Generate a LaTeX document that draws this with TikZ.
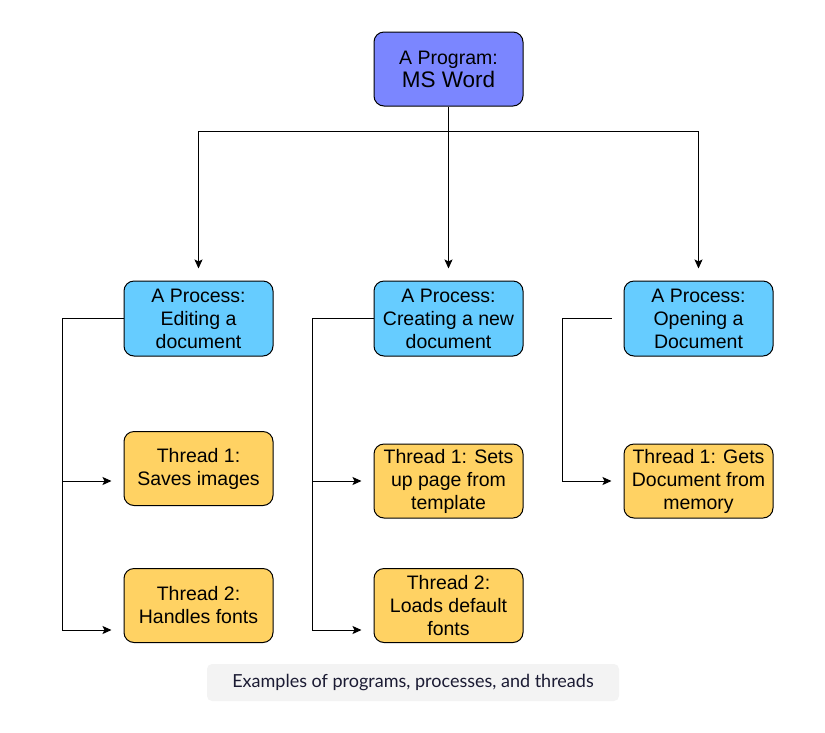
\documentclass[tikz,border=0pt]{standalone}
\usepackage{fontspec}
\setmainfont{Liberation Sans}
\newfontfamily\capfont{Lato}
\usetikzlibrary{arrows.meta}
\definecolor{progcol}{HTML}{7B86FF}
\definecolor{proccol}{HTML}{66CCFF}
\definecolor{thrcol}{HTML}{FFD263}
\definecolor{capbg}{HTML}{F3F3F3}
\definecolor{captxt}{HTML}{1B1B33}
\tikzset{
  box/.style={draw=black, line width=1pt, rounded corners=10pt, minimum width=149pt,
    minimum height=75pt, inner sep=0pt, align=center, font=\fontsize{19.5}{23}\selectfont},
  progbox/.style={box, fill=progcol, minimum height=74pt},
  procbox/.style={box, fill=proccol},
  thrbox/.style={box, fill=thrcol, minimum height=74pt},
  conn/.style={line width=1pt, -{Stealth[length=9pt,width=8pt,inset=2pt]}, shorten >=12pt},
  plain/.style={line width=1pt},
}
\begin{document}
\begin{tikzpicture}[x=1pt,y=-1pt]
\useasboundingbox (0,0) rectangle (825,732);
\node[progbox] (prog) at (448.5,69) {A Program:\\{\fontsize{22.5}{23}\selectfont MS Word}};
\node[procbox] (p1) at (198.5,318.5) {A Process:\\Editing a\\document};
\node[procbox] (p2) at (448.5,318.5) {A Process:\\Creating a new\\document};
\node[procbox] (p3) at (698.5,318.5) {A Process:\\Opening a\\Document};
\node[thrbox] (t11) at (198.5,468.5) {Thread 1:\\Saves images};
\node[thrbox] (t12) at (198.5,605.5) {Thread 2:\\Handles fonts};
\node[thrbox] (t21) at (448.5,481) {Thread 1: Sets\\up page from\\template};
\node[thrbox] (t22) at (448.5,605.5) {Thread 2:\\Loads default\\fonts};
\node[thrbox] (t31) at (698.5,481) {Thread 1: Gets\\Document from\\memory};
\coordinate (j) at (448.5,131);
\coordinate (a1) at (62,318.5);
\coordinate (a2) at (312,318.5);
\coordinate (a3) at (562,318.5);
\draw[plain] (prog) -- (j);
\draw[conn] (j) -| (p1);
\draw[conn] (j) -- (p2);
\draw[conn] (j) -| (p3);
\draw[plain] (p1) -- (a1);
\draw[conn] (a1) |- ([yshift=-12.5pt]t11.west);
\draw[conn] (a1) |- ([yshift=-24.5pt]t12.west);
\draw[plain] (p2) -- (a2);
\draw[conn] (a2) |- (t21);
\draw[conn] (a2) |- ([yshift=-24.5pt]t22.west);
\draw[plain, shorten <=12pt] (p3) -- (a3);
\draw[conn] (a3) |- (t31);
\node[fill=capbg, rounded corners=5pt, minimum width=412pt, minimum height=37pt, inner sep=0pt,
  text=captxt, font=\capfont\fontsize{18}{21}\selectfont] (cap) at (413,682.5)
  {Examples of programs, processes, and threads};
\end{tikzpicture}
\end{document}
